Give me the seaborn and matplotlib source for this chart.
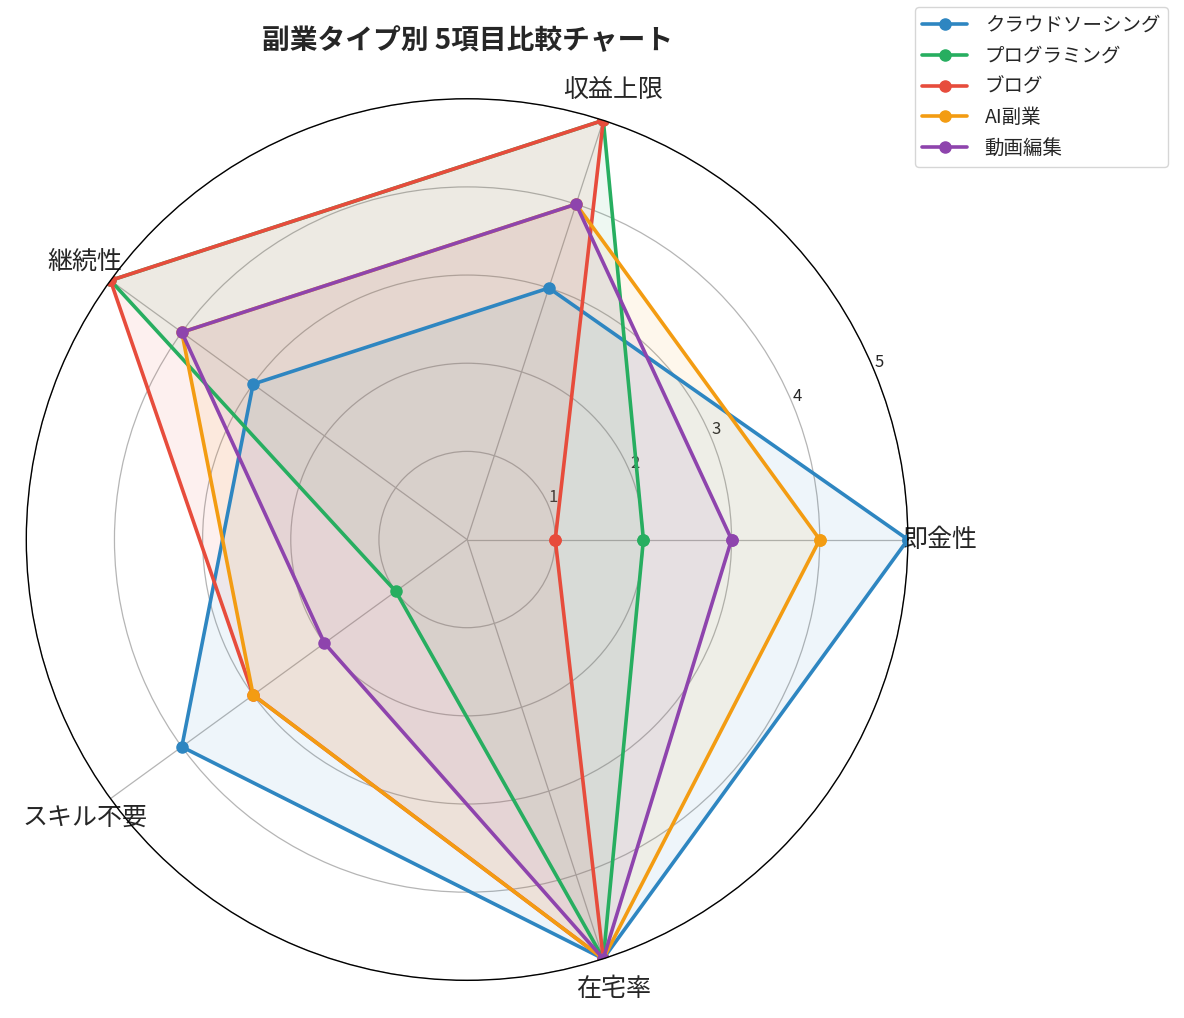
import numpy as np
import matplotlib
matplotlib.use("Agg")
import matplotlib.pyplot as plt
import seaborn as sns

sns.set_theme(style="white")
plt.rcParams['font.family'] = ['Noto Sans CJK JP', 'DejaVu Sans']

categories = ["即金性", "収益上限", "継続性", "スキル不要", "在宅率"]
series_names = ["クラウドソーシング", "プログラミング", "ブログ", "AI副業", "動画編集"]
crowd = [5, 3, 3, 4, 5]
programming = [2, 5, 5, 1, 5]
blog = [1, 5, 5, 3, 5]
ai = [4, 4, 4, 3, 5]
video = [3, 4, 4, 2, 5]
values = [crowd, programming, blog, ai, video]
colors = ["#2E86C1", "#27AE60", "#E74C3C", "#F39C12", "#8E44AD"]
rticks = [1, 2, 3, 4, 5]

fig = plt.figure(figsize=(11.84, 10.18), dpi=100)
ax = fig.add_axes([0.022, 0.037, 0.745, 0.866], projection="polar")

n = len(categories)
angles = np.linspace(0, 2 * np.pi, n, endpoint=False).tolist()
angles_c = angles + angles[:1]

for name, vals, col in zip(series_names, values, colors):
    v = list(vals) + [vals[0]]
    ax.plot(angles_c, v, color=col, linewidth=2.6, marker="o", markersize=8, label=name)
    ax.fill(angles_c, v, color=col, alpha=0.08)

ax.set_ylim(0, 5)
ax.set_yticks(rticks)
ax.set_yticklabels([str(t) for t in rticks], fontsize=12)
ax.set_rlabel_position(22.5)
ax.set_xticks(angles)
ax.set_xticklabels(categories, fontsize=18)
ax.tick_params(axis="x", pad=10)
ax.grid(True, color="#b5b5b5", linewidth=0.9)
ax.spines["polar"].set_color("black")
ax.spines["polar"].set_linewidth(1.0)

ax.set_title("副業タイプ別 5項目比較チャート", fontsize=20, fontweight="bold", pad=36)
ax.legend(loc="upper right", bbox_to_anchor=(1.306, 1.115), fontsize=14,
          labelspacing=0.5, handlelength=2.3, handletextpad=0.9, frameon=True)

fig.savefig("out.png", dpi=100)
